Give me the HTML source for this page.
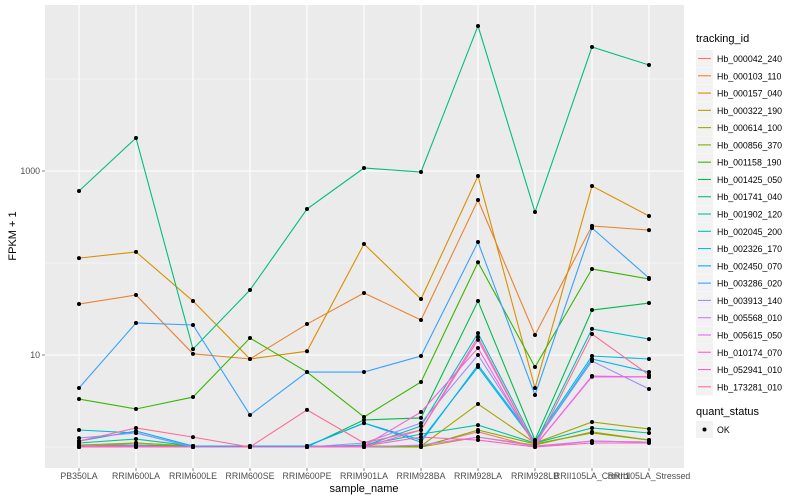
<!DOCTYPE html>
<html><head><meta charset="utf-8"><style>
body{margin:0;background:#fff;}
svg{display:block;font-family:"Liberation Sans",sans-serif;}
</style></head><body>
<svg id="chart" width="800" height="500" viewBox="0 0 800 500">
<rect x="45" y="5" width="639" height="463" fill="#EBEBEB"/>
<g id="grid"></g><g id="series"></g><g id="axes"></g><g id="legend"></g>
</svg>
<script>
const categories=["PB350LA","RRIM600LA","RRIM600LE","RRIM600SE","RRIM600PE","RRIM901LA","RRIM928BA","RRIM928LA","RRIM928LB","RRII105LA_Control","RRII105LA_Stressed"];
const seriesNames=["Hb_000042_240","Hb_000103_110","Hb_000157_040","Hb_000322_190","Hb_000614_100","Hb_000856_370","Hb_001158_190","Hb_001425_050","Hb_001741_040","Hb_001902_120","Hb_002045_200","Hb_002326_170","Hb_002450_070","Hb_003286_020","Hb_003913_140","Hb_005568_010","Hb_005615_050","Hb_010174_070","Hb_052941_010","Hb_173281_010"];
const s0=[1.025,1.05,1.025,1,1,1,1.025,1.46,1,1.16,1.13];
const s1=[35.8,44.9,10.3,9.05,21.7,47.2,24.0,484,16.5,253,228];
const s2=[113,132,38.6,9.05,11.0,161,40.6,883,4.38,687,324];
const s3=[1,1.105,1.025,1,1,1,1,1.28,1.05,1.46,1.19];
const s4=[1.05,1.105,1.025,1,1,1.025,1.025,2.93,1.105,1.87,1.57];
const s5=[1,1.05,1.025,1,1,1,1,1.53,1.08,1.42,1.19];
const s6=[3.32,2.59,3.49,15.3,6.53,2.12,5.09,102,7.41,86,67];
const s7=[1.025,1,1.025,1,1,1.97,2.07,38.6,1.19,30.8,36.7];
const s8=[606,2285,11.6,50.9,386,1078,975,37700,358,22280,14190];
const s9=[1.105,1.22,1.025,1,1,1.05,1.38,1.73,1.105,1.61,1.42];
const s10=[1.025,1.05,1,1.025,1.025,1.025,1.69,17.3,1.08,19.2,14.9];
const s11=[1.53,1.42,1,1.025,1.025,1.82,1.13,7.79,1.16,9.75,9.05];
const s12=[1.16,1.49,1.025,1.025,1.025,1.82,1.19,7.41,1.105,9.05,6.53];
const s13=[4.38,22.3,21.2,2.23,6.53,6.53,9.75,169,3.68,240,68.7];
const s14=[1.25,1.42,1,1,1,1.105,1.82,10.0,1.105,8.6,4.27];
const s15=[1,1,1,1,1,1,1.05,1.28,1.025,1.16,1.13];
const s16=[1,1,1,1,1,1,1.53,14.6,1.025,5.8,5.77];
const s17=[1,1,1,1,1,1.025,2.40,11.9,1.025,5.91,5.77];
const s18=[1.025,1.025,1,1,1,1.025,1.28,1.19,1,1.105,1.105];
const s19=[1.16,1.61,1.28,1,2.53,1.105,1.53,15.7,1,16.9,6.06];
const seriesValues=[s0,s1,s2,s3,s4,s5,s6,s7,s8,s9,s10,s11,s12,s13,s14,s15,s16,s17,s18,s19];
const colors=["#F8766D","#EA8331","#D89000","#C09B00","#A3A500","#7CAE00","#39B600","#00BB4E","#00BF7D","#00C1A3","#00BFC4","#00BAE0","#00B0F6","#35A2FF","#9590FF","#C77CFF","#E76BF3","#FA62DB","#FF62BC","#FF6C91"];
const yMajor=[10,1000];
const yMajorLabels=["10","1000"];
const yMinor=[1,100,10000];

const NS="http://www.w3.org/2000/svg";
const PL=45,PR=684,PT=5,PB=468;
function xScale(i){return 79+i*57;}
function yScale(v){return 447-92*Math.log10(v);}
function mk(tag,attrs,parent){const e=document.createElementNS(NS,tag);for(const k in attrs)e.setAttribute(k,attrs[k]);parent.appendChild(e);return e;}
const grid=document.getElementById('grid'),ser=document.getElementById('series'),axes=document.getElementById('axes'),leg=document.getElementById('legend');
yMinor.forEach(v=>{const y=yScale(v);if(y<PT||y>PB)return;
 const l=mk('line',{x1:PL,x2:PR,y1:y,y2:y,stroke:'#fff','stroke-width':0.6},grid);
 
 });
yMajor.forEach((v,i)=>{const y=yScale(v);
 const l=mk('line',{x1:PL,x2:PR,y1:y,y2:y,stroke:'#fff','stroke-width':1.1},grid);
 
 
 mk('line',{x1:PL-3,x2:PL,y1:y,y2:y,stroke:'#333','stroke-width':0.6},axes);
 const t=mk('text',{x:PL-5,y:y+3,'text-anchor':'end','font-size':8.8,fill:'#4D4D4D'},axes);t.textContent=yMajorLabels[i];
 
 });
categories.forEach((c,i)=>{const x=xScale(i);
 const l=mk('line',{x1:x,x2:x,y1:PT,y2:PB,stroke:'#fff','stroke-width':1.1},grid);
 
 
 mk('line',{x1:x,x2:x,y1:PB,y2:PB+3,stroke:'#333','stroke-width':0.6},axes);
 const t=mk('text',{x:x,y:PB+11,'text-anchor':'middle','font-size':8.8,fill:'#4D4D4D'},axes);t.textContent=c;
 
 });
seriesValues.forEach((vals,si)=>{
 const pts=vals.map((v,i)=>xScale(i)+','+yScale(v)).join(' ');
 const p=mk('polyline',{points:pts,fill:'none',stroke:colors[si],'stroke-width':1.1},ser);
 
 });
seriesValues.forEach((vals,si)=>{vals.forEach((v,i)=>{
 const c=mk('circle',{cx:xScale(i),cy:yScale(v),r:2,fill:'#000'},ser);
 
 });});
let t=mk('text',{x:364,y:492,'text-anchor':'middle','font-size':11,fill:'#000'},axes);t.textContent='sample_name';


t=mk('text',{x:16,y:236,'text-anchor':'middle','font-size':11,fill:'#000',transform:'rotate(-90 16 236)'},axes);t.textContent='FPKM + 1';


t=mk('text',{x:696,y:42,'font-size':11,fill:'#000'},leg);t.textContent='tracking_id';


seriesNames.forEach((n,i)=>{const y=50+i*17.28;
 const g=mk('g',{},leg);
 
 
 mk('rect',{x:696,y:y,width:17,height:17,fill:'#F2F2F2'},g);
 mk('line',{x1:698,x2:711,y1:y+8.5,y2:y+8.5,stroke:colors[i],'stroke-width':1.1},g);
 const tt=mk('text',{x:717,y:y+12,'font-size':8.8,fill:'#000'},g);tt.textContent=n;});
t=mk('text',{x:696,y:415,'font-size':11,fill:'#000'},leg);t.textContent='quant_status';


const g2=mk('g',{},leg);


mk('rect',{x:696,y:421,width:17,height:17,fill:'#F2F2F2'},g2);
mk('circle',{cx:704.5,cy:429.5,r:2,fill:'#000'},g2);
const ok=mk('text',{x:717,y:433,'font-size':8.8,fill:'#000'},g2);ok.textContent='OK';
</script>
</body></html>
